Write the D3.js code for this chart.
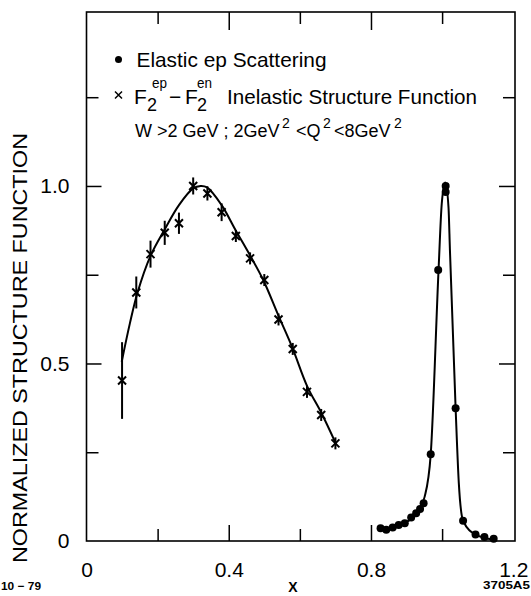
<!DOCTYPE html>
<html>
<head>
<meta charset="utf-8">
<script src="https://cdn.jsdelivr.net/npm/d3@7/dist/d3.min.js"></script>
<style>
  html, body { margin: 0; padding: 0; background: #fff; }
  svg { display: block; font-family: "Liberation Sans", Arial, Helvetica, sans-serif; }
</style>
</head>
<body>
<svg id="chart" width="531" height="596"></svg>
<script>
// ---------------- data ----------------
// Inelastic structure function F2ep - F2en (normalized)
const inelX   = [0.10, 0.14, 0.18, 0.22, 0.26, 0.30, 0.34, 0.38, 0.42, 0.46, 0.50, 0.54, 0.58, 0.62, 0.66, 0.70];
const inelY   = [0.452, 0.700, 0.808, 0.868, 0.895, 1.000, 0.979, 0.926, 0.859, 0.796, 0.735, 0.624, 0.541, 0.420, 0.355, 0.275];
const inelErr = [0.108, 0.045, 0.038, 0.034, 0.030, 0.024, 0.020, 0.025, 0.015, 0.015, 0.015, 0.012, 0.015, 0.012, 0.010, 0.010];

// fitted curve through inelastic data
const inelCurveX = [0.099, 0.122, 0.143, 0.180, 0.219, 0.260, 0.300, 0.321, 0.339, 0.380, 0.419, 0.459, 0.497, 0.541, 0.578, 0.621, 0.661, 0.701];
const inelCurveY = [0.505, 0.613, 0.698, 0.803, 0.876, 0.946, 0.993, 1.000, 0.996, 0.946, 0.876, 0.806, 0.735, 0.632, 0.547, 0.435, 0.360, 0.275];

// Elastic ep scattering
const elX = [0.827, 0.843, 0.861, 0.878, 0.895, 0.913, 0.927, 0.938, 0.948, 0.968, 0.989, 1.010, 1.010, 1.038, 1.059, 1.094, 1.119, 1.145];
const elY = [0.036, 0.032, 0.038, 0.045, 0.050, 0.066, 0.078, 0.090, 0.106, 0.244, 0.763, 0.983, 1.000, 0.374, 0.057, 0.018, 0.011, 0.006];

// curve through elastic peak
const elCurveX = [0.827, 0.860, 0.895, 0.928, 0.951, 0.968, 0.990, 0.999, 1.009, 1.018, 1.022, 1.038, 1.047, 1.059, 1.094, 1.145];
const elCurveY = [0.036, 0.036, 0.050, 0.078, 0.125, 0.244, 0.763, 0.950, 1.010, 0.940, 0.820, 0.374, 0.163, 0.057, 0.018, 0.004];

// ticks
const xTickLabels = [0, 0.4, 0.8, 1.2];
const xMajorTicks = [0.4, 0.8];
const xMinorTicks = [0.2, 0.6, 1.0];
const yTickLabels = [0, 0.5, 1.0];
const yMajorTicks = [0.5, 1.0];
const yMinorTicks = [0.25, 0.75, 1.25];

// ---------------- layout ----------------
const L = 86.5, R = 515, T = 12, B = 541;
const svg = d3.select("#chart");
const x = d3.scaleLinear().domain([0, 1.205]).range([L, R]);
const y = d3.scaleLinear().domain([0, 1.49]).range([B, T]);

// frame
svg.append("rect")
  .attr("x", L).attr("y", T).attr("width", R - L).attr("height", B - T)
  .attr("fill", "none").attr("stroke", "#000").attr("stroke-width", 1.6);

function styleAxis(g) {
  g.select(".domain").remove();
  g.selectAll("line").attr("stroke", "#000").attr("stroke-width", 1.5);
  g.selectAll("text").attr("fill", "#000");
}
const noLab = () => "";

// bottom
svg.append("g").attr("transform", `translate(0,${B})`)
  .call(d3.axisBottom(x).tickValues(xMajorTicks).tickSize(-16).tickFormat(noLab)).call(styleAxis);
svg.append("g").attr("transform", `translate(0,${B})`)
  .call(d3.axisBottom(x).tickValues(xMinorTicks).tickSize(-12).tickFormat(noLab)).call(styleAxis);
svg.append("g").attr("transform", `translate(0,${B})`)
  .call(d3.axisBottom(x).tickValues(xTickLabels).tickSize(0).tickPadding(21)
        .tickFormat(d => d === 0 ? "0" : d3.format(".1f")(d)))
  .call(styleAxis)
  .call(g => g.selectAll("text").attr("font-size", 21).attr("font-family", "Liberation Sans, Arial, sans-serif"));

// top
svg.append("g").attr("transform", `translate(0,${T})`)
  .call(d3.axisTop(x).tickValues(xMajorTicks).tickSize(-18).tickFormat(noLab)).call(styleAxis);
svg.append("g").attr("transform", `translate(0,${T})`)
  .call(d3.axisTop(x).tickValues(xMinorTicks).tickSize(-12).tickFormat(noLab)).call(styleAxis);

// left
svg.append("g").attr("transform", `translate(${L},0)`)
  .call(d3.axisLeft(y).tickValues(yMajorTicks).tickSize(-15).tickFormat(noLab)).call(styleAxis);
svg.append("g").attr("transform", `translate(${L},0)`)
  .call(d3.axisLeft(y).tickValues(yMinorTicks).tickSize(-12).tickFormat(noLab)).call(styleAxis);
svg.append("g").attr("transform", `translate(${L},0)`)
  .call(d3.axisLeft(y).tickValues(yTickLabels).tickSize(0).tickPadding(17)
        .tickFormat(d => d === 0 ? "0" : d3.format(".1f")(d)))
  .call(styleAxis)
  .call(g => g.selectAll("text").attr("font-size", 21).attr("font-family", "Liberation Sans, Arial, sans-serif"));

// right
svg.append("g").attr("transform", `translate(${R},0)`)
  .call(d3.axisRight(y).tickValues(yMajorTicks).tickSize(-16).tickFormat(noLab)).call(styleAxis);
svg.append("g").attr("transform", `translate(${R},0)`)
  .call(d3.axisRight(y).tickValues(yMinorTicks).tickSize(-12).tickFormat(noLab)).call(styleAxis);

// ---------------- curves ----------------
const line = d3.line().x(d => x(d[0])).y(d => y(d[1])).curve(d3.curveCatmullRom.alpha(0.5));
svg.append("path")
  .datum(d3.zip(inelCurveX, inelCurveY))
  .attr("d", line).attr("fill", "none").attr("stroke", "#000").attr("stroke-width", 2);
svg.append("path")
  .datum(d3.zip(elCurveX, elCurveY))
  .attr("d", d3.line().x(d => x(d[0])).y(d => y(d[1])).curve(d3.curveMonotoneX))
  .attr("fill", "none").attr("stroke", "#000").attr("stroke-width", 2);

// ---------------- inelastic markers ----------------
const inel = d3.range(inelX.length).map(i => ({x: inelX[i], y: inelY[i], e: inelErr[i]}));
const mk = svg.append("g").attr("stroke", "#000").attr("stroke-width", 2).attr("fill", "none");
inel.forEach(d => {
  const cx = x(d.x), cy = y(d.y);
  const top = Math.min(y(d.y + d.e), cy - 6), bot = Math.max(y(d.y - d.e), cy + 6);
  mk.append("line").attr("x1", cx).attr("x2", cx).attr("y1", top).attr("y2", bot);
  mk.append("path").attr("d", `M${cx-4},${cy-4}L${cx+4},${cy+4}M${cx-4},${cy+4}L${cx+4},${cy-4}`);
});

// ---------------- elastic dots ----------------
svg.append("g").selectAll("circle")
  .data(d3.zip(elX, elY)).join("circle")
  .attr("cx", d => x(d[0])).attr("cy", d => y(d[1])).attr("r", 4).attr("fill", "#000");

// ---------------- legend ----------------
const lg = svg.append("g").attr("fill", "#000").attr("font-size", 21);
function txt(xp, yp, s, size, len) {
  const t = lg.append("text").attr("x", xp).attr("y", yp).text(s);
  if (size) t.attr("font-size", size);
  if (len) t.attr("textLength", len).attr("lengthAdjust", "spacingAndGlyphs");
  return t;
}
lg.append("circle").attr("cx", 118.5).attr("cy", 59.5).attr("r", 3.5);
txt(136.5, 67, "Elastic ep Scattering", null, 190);

lg.append("path").attr("d", "M115,91.5L122,98.5M115,98.5L122,91.5").attr("stroke", "#000").attr("stroke-width", 1.5);
txt(134, 104, "F");
txt(147, 110.5, "2", 18);
txt(152, 88, "ep", 15, 15);
txt(169, 104, "\u2212");
txt(185, 104, "F");
txt(197, 110.5, "2", 18);
txt(197, 88, "en", 15, 15);
txt(227, 104, "Inelastic Structure Function", null, 250);

// line 3: W > 2 GeV ; 2 GeV^2 < Q^2 < 8 GeV^2
txt(135, 137, "W >2 GeV ; 2GeV", 18);
txt(282, 128, "2", 14);
txt(296, 137, "<Q", 18);
txt(323, 128, "2", 14);
txt(334, 137, "<8GeV", 18);
txt(394, 128, "2", 14);

// ---------------- axis titles & notes ----------------
svg.append("text")
  .attr("transform", `translate(27,348) rotate(-90)`)
  .attr("text-anchor", "middle").attr("font-size", 21)
  .attr("textLength", 430).attr("lengthAdjust", "spacingAndGlyphs")
  .text("NORMALIZED STRUCTURE FUNCTION");

svg.append("text").attr("x", 293).attr("y", 592).attr("text-anchor", "middle")
  .attr("font-size", 14).attr("font-weight", "bold").text("X");
svg.append("text").attr("x", 1).attr("y", 590).attr("font-size", 11).attr("font-weight", "bold")
  .attr("textLength", 40).attr("lengthAdjust", "spacingAndGlyphs").text("10 \u2212 79");
svg.append("text").attr("x", 483).attr("y", 589).attr("font-size", 10).attr("font-weight", "bold")
  .attr("textLength", 47).attr("lengthAdjust", "spacingAndGlyphs").text("3705A5");
</script>
</body>
</html>
